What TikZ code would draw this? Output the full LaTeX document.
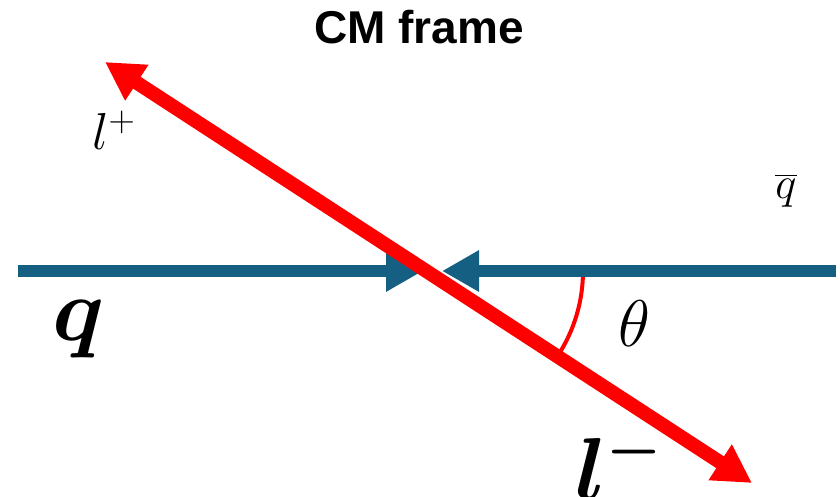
\documentclass[tikz,border=0pt]{standalone}
\usepackage{fix-cm}
\usepackage{amsmath,bm}
\usepackage{fontspec}
\newfontfamily\headfont{Liberation Sans}
\usetikzlibrary{arrows.meta}
\definecolor{quarkblue}{RGB}{21,96,130}
\definecolor{leptonred}{RGB}{255,0,0}

\begin{document}
\begin{tikzpicture}[x=1pt,y=-1pt,
    quark/.style={draw=quarkblue,line width=12pt,-{Triangle[length=37pt,width=39pt]}},
    lepton/.style={draw=leptonred,line width=14pt,{Triangle[length=38pt,width=40pt]}-{Triangle[length=38pt,width=40pt]}},
    lbl/.style={inner sep=0pt,anchor=base}]
  \useasboundingbox (0,0) rectangle (840,497);
  \coordinate (qin) at (18,271);
  \coordinate (qtip) at (423,271);
  \coordinate (qbin) at (836,271);
  \coordinate (qbtip) at (442,271);
  \coordinate (lp) at (105,62);
  \coordinate (lm) at (752,483);
  \coordinate (o) at (428,271);
  \draw[leptonred,line width=4pt] (o) ++(0:155) arc[start angle=0,end angle=33,radius=155];
  \draw[quark] (qin) -- (qtip);
  \draw[quark] (qbin) -- (qbtip);
  \draw[lepton] (lp) -- (lm);
  \node[lbl,font=\headfont\bfseries\fontsize{46}{52}\selectfont] (title) at (419,44) {CM frame};
  \node[lbl,anchor=base west,font=\fontsize{90}{100}\selectfont] (q) at (52,340) {$\bm{q}$};
  \node[lbl,font=\fontsize{45}{50}\selectfont] (qbar) at (786,198) {$\overline{q}$};
  \node[lbl,font=\fontsize{66}{70}\selectfont] (theta) at (634,346) {$\theta$};
  \node[lbl,anchor=base west,font=\fontsize{52}{58}\selectfont] (lplus) at (92,150) {$l^+$};
  \node[lbl,anchor=base west,font=\fontsize{88}{96}\selectfont] (lminus) at (575,499) {$\bm{l^-}$};
\end{tikzpicture}
\end{document}
